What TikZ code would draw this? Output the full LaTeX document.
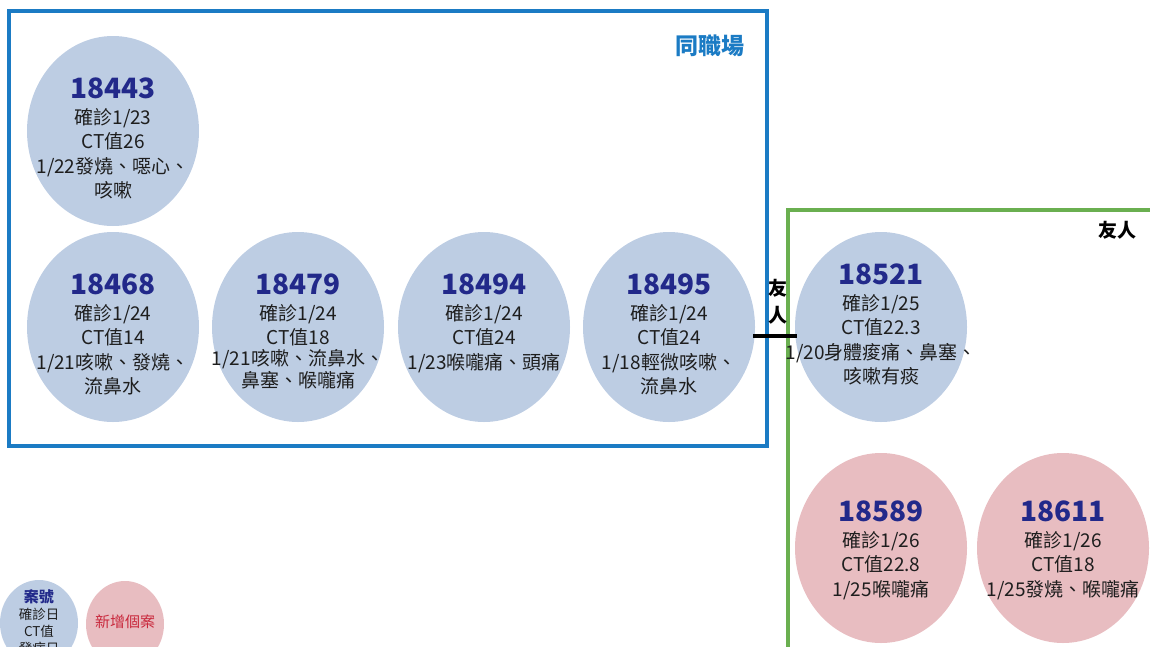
\documentclass[tikz,border=0pt]{standalone}
\usepackage{fontspec}
\setmainfont{Noto Sans CJK TC}
\usetikzlibrary{shapes.geometric,calc}
\definecolor{bluebox}{HTML}{1B7BC4}
\definecolor{greenbox}{HTML}{6AAF50}
\definecolor{bluefill}{HTML}{BDCDE3}
\definecolor{pinkfill}{HTML}{E8BDC1}
\definecolor{numcol}{HTML}{22298A}
\definecolor{txtcol}{HTML}{1E1E1E}
\definecolor{newred}{HTML}{C9283C}
\tikzset{
  blob/.style={ellipse,inner sep=0pt,minimum width=172pt,minimum height=190pt},
  oldcase/.style={blob,fill=bluefill},
  newcase/.style={blob,fill=pinkfill},
  casetxt/.style={anchor=north,inner sep=0pt,align=center,text=txtcol,
    font=\fontsize{19}{24.5}\selectfont},
  grouplbl/.style={inner sep=0pt,font=\bfseries\fontsize{20}{26}\selectfont},
}
\newcommand{\casenum}[1]{{\fontsize{28}{30}\selectfont\bfseries\color{numcol}#1}\\[1pt]}
\begin{document}
\begin{tikzpicture}[x=1pt,y=-1pt]
\useasboundingbox (0,0) rectangle (1150,646);
\clip (0,0) rectangle (1150,646);
% group boxes
\draw[bluebox,line width=4pt] (9,11) rectangle (767,446);
\node[grouplbl,text=bluebox,font=\bfseries\fontsize{23}{28}\selectfont] (lblwork) at (710,46) {同職場};
\draw[greenbox,line width=3.5pt] (788,210) rectangle (1170,680);
\node[grouplbl,text=black,font=\bfseries\fontsize{19}{24}\selectfont] (lblfriend) at (1117,230) {友人};
% cases
\node[oldcase] (e18443) at (113,131) {};
\node[casetxt] (t18443) at (113,78) {\casenum{18443}確診1/23\\CT值26\\1/22發燒、噁心、\\咳嗽};
\node[oldcase] (e18468) at (113,327) {};
\node[casetxt] (t18468) at (113,274) {\casenum{18468}確診1/24\\CT值14\\1/21咳嗽、發燒、\\流鼻水};
\node[oldcase] (e18479) at (298,327) {};
\node[casetxt] (t18479) at (298,274) {\casenum{18479}確診1/24\\CT值18\\[-4pt]1/21咳嗽、流鼻水、\\[-2pt]鼻塞、喉嚨痛};
\node[oldcase] (e18494) at (484,327) {};
\node[casetxt] (t18494) at (484,274) {\casenum{18494}確診1/24\\CT值24\\1/23喉嚨痛、頭痛};
\node[oldcase] (e18495) at (669,327) {};
\node[casetxt] (t18495) at (669,274) {\casenum{18495}確診1/24\\CT值24\\1/18輕微咳嗽、\\流鼻水};
\node[oldcase] (e18521) at (881,327) {};
\node[casetxt] (t18521) at (881,264) {\casenum{18521}確診1/25\\CT值22.3\\1/20身體痠痛、鼻塞、\\咳嗽有痰};
\node[newcase] (e18589) at (881,548) {};
\node[casetxt] (t18589) at (881,501) {\casenum{18589}確診1/26\\CT值22.8\\1/25喉嚨痛};
\node[newcase] (e18611) at (1063,548) {};
\node[casetxt] (t18611) at (1063,501) {\casenum{18611}確診1/26\\CT值18\\1/25發燒、喉嚨痛};
% connector
\draw[black,line width=4pt] ($(e18495.east)+(-2,9)$) -- ($(e18521.west)+(2,9)$);
\node[grouplbl,align=center,text=black,font=\bfseries\fontsize{19}{27}\selectfont] (lblconn) at (778,302) {友\\人};
% legend
\node[ellipse,inner sep=0pt,minimum width=78pt,minimum height=86pt,fill=bluefill] (legold) at (39,623) {};
\node[anchor=north,inner sep=0pt,align=center,text=txtcol,font=\fontsize{13.5}{17}\selectfont] (legoldtxt) at (39,589)
  {{\bfseries\fontsize{15}{17}\selectfont\color{numcol}案號}\\確診日\\CT值\\發病日};
\node[ellipse,inner sep=0pt,minimum width=78pt,minimum height=86pt,fill=pinkfill] (legnew) at (125,624) {};
\node[inner sep=0pt,text=newred,font=\fontsize{15}{18}\selectfont] (legnewtxt) at (125,622) {新增個案};
\end{tikzpicture}
\end{document}
